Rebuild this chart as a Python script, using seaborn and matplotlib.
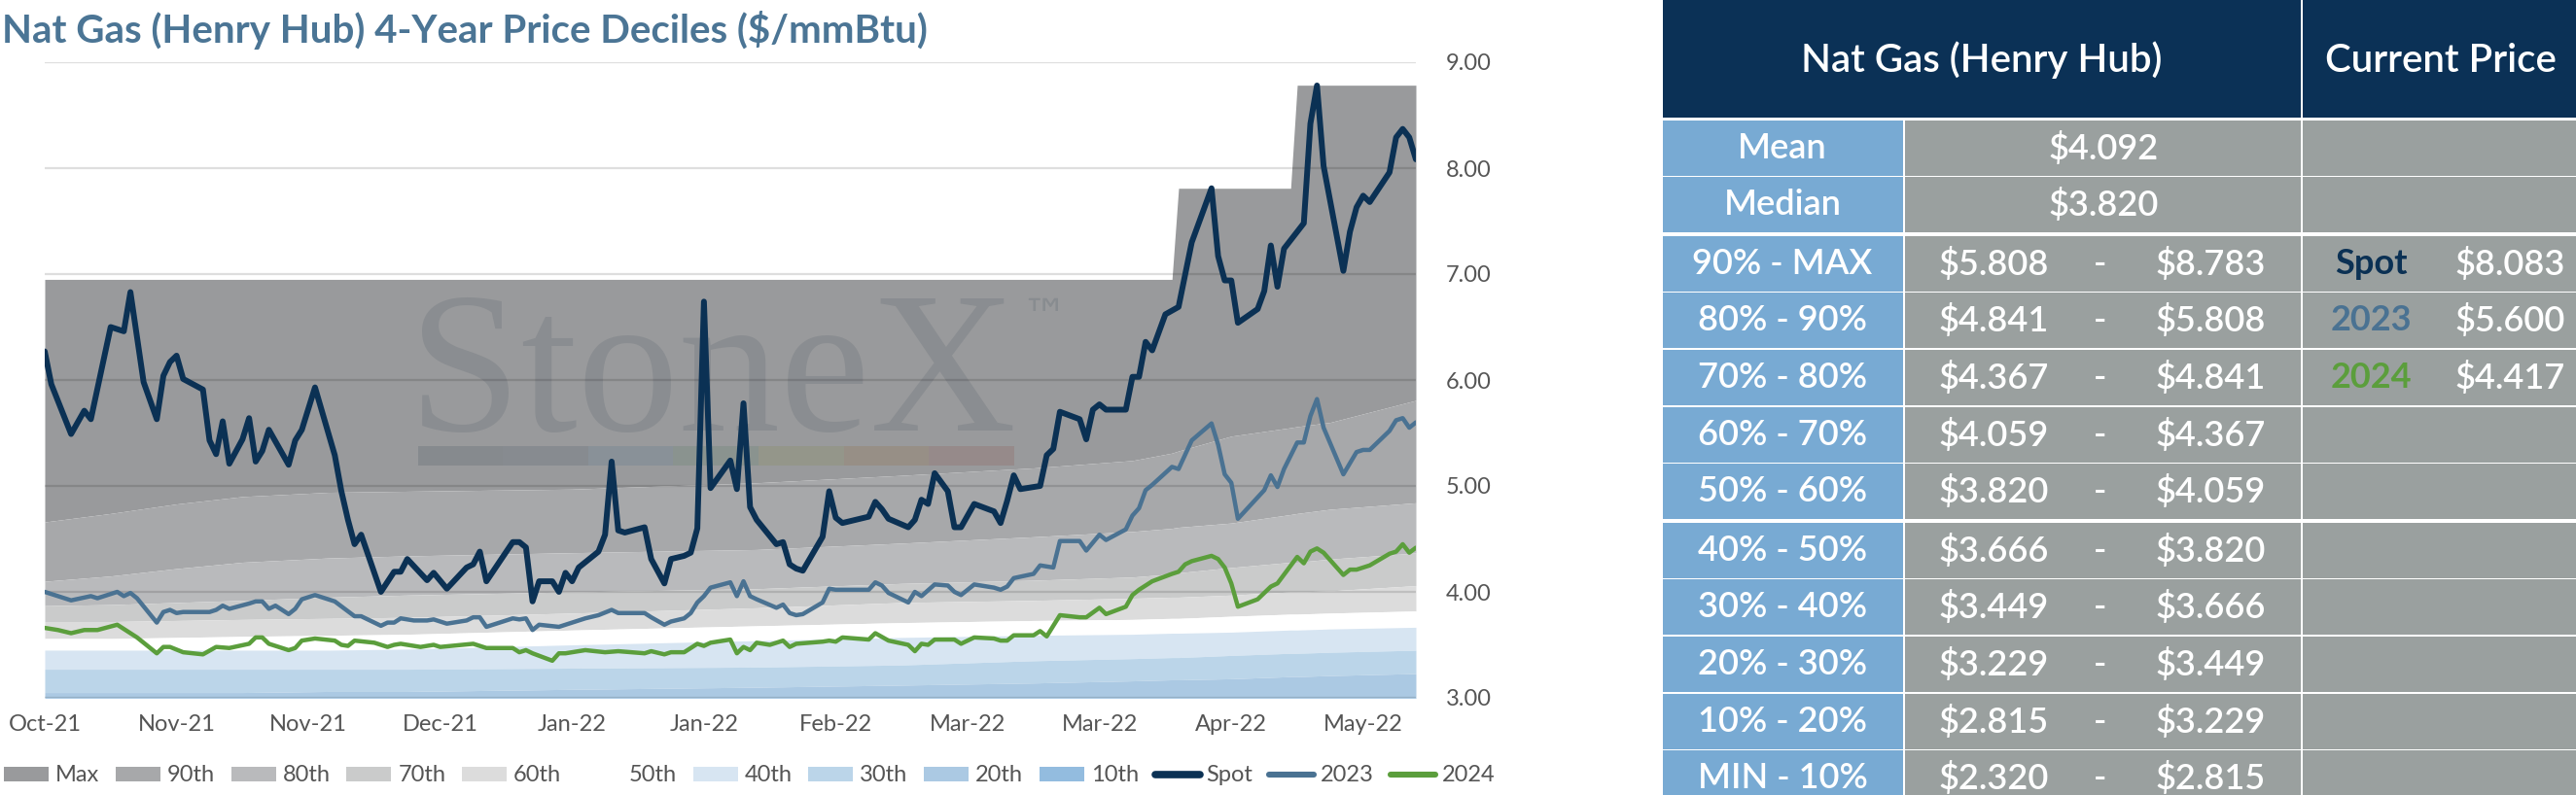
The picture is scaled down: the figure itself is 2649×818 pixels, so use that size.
import matplotlib
matplotlib.use("Agg")
import matplotlib.pyplot as plt
from matplotlib.patches import Rectangle, Patch
from matplotlib.lines import Line2D
import pandas as pd
import seaborn as sns

# ---- data ----------------------------------------------------------------
START = pd.Timestamp("2021-10-15")
LAST_DAY = 208

spot_day = [0, 1, 4, 6, 7, 10, 12, 13, 15, 17, 18, 19, 20, 21, 24, 25, 26, 27, 28, 30,
            31, 32, 33, 34, 37, 38, 39, 41, 44, 45, 46, 47, 48, 51, 53, 54, 55, 58, 59, 61,
            64, 65, 66, 67, 71, 72, 73, 74, 75, 77, 78, 79, 80, 81, 84, 85, 86, 87, 88, 91,
            92, 94, 95, 97, 98, 99, 100, 101, 104, 105, 106, 107, 108, 111, 112, 113, 114, 115, 118, 119,
            120, 121, 125, 126, 127, 128, 131, 132, 133, 134, 135, 137, 138, 139, 141, 144, 145, 146, 147, 148,
            151, 152, 153, 154, 157, 158, 159, 160, 161, 164, 165, 166, 167, 168, 170, 172, 174, 177, 178, 179,
            180, 181, 184, 185, 186, 187, 188, 191, 192, 193, 194, 197, 198, 199, 200, 201, 204, 205, 206, 207,
            208]
spot_px = [6.27, 5.96, 5.49, 5.71, 5.63, 6.50, 6.46, 6.83, 5.98, 5.63, 6.04, 6.17, 6.23, 6.01, 5.91, 5.43, 5.30, 5.61, 5.21, 5.44,
           5.64, 5.23, 5.33, 5.53, 5.20, 5.43, 5.53, 5.93, 5.29, 4.95, 4.68, 4.45, 4.54, 4.00, 4.19, 4.19, 4.31, 4.11, 4.18, 4.03,
           4.23, 4.26, 4.38, 4.10, 4.47, 4.47, 4.42, 3.91, 4.10, 4.10, 4.00, 4.18, 4.10, 4.23, 4.38, 4.54, 5.23, 4.58, 4.56, 4.61,
           4.31, 4.08, 4.31, 4.34, 4.37, 4.60, 6.74, 4.98, 5.24, 4.97, 5.78, 4.80, 4.68, 4.45, 4.47, 4.26, 4.22, 4.20, 4.52, 4.95,
           4.70, 4.65, 4.71, 4.85, 4.78, 4.69, 4.61, 4.68, 4.87, 4.83, 5.12, 4.95, 4.61, 4.61, 4.83, 4.76, 4.65, 4.86, 5.10, 4.97,
           5.00, 5.29, 5.35, 5.70, 5.63, 5.44, 5.72, 5.77, 5.72, 5.72, 6.03, 6.03, 6.36, 6.28, 6.62, 6.69, 7.30, 7.81, 7.17, 6.94,
           6.94, 6.54, 6.67, 6.84, 7.27, 6.88, 7.24, 7.48, 8.42, 8.78, 8.02, 7.03, 7.40, 7.63, 7.74, 7.68, 7.96, 8.29, 8.37, 8.29,
           8.083]

y2023_day = [0, 4, 7, 8, 11, 12, 13, 14, 17, 18, 19, 20, 21, 25, 26, 27, 28, 31, 32, 33,
             34, 35, 37, 38, 39, 41, 44, 47, 48, 51, 52, 53, 54, 56, 58, 59, 61, 64, 65, 66,
             67, 71, 72, 73, 74, 75, 78, 80, 82, 84, 86, 87, 91, 92, 94, 95, 97, 98, 99, 100,
             101, 104, 105, 106, 107, 108, 111, 112, 113, 114, 115, 118, 119, 120, 125, 126, 127, 128, 131, 132,
             133, 135, 137, 138, 139, 141, 144, 145, 146, 147, 150, 151, 153, 154, 157, 158, 160, 161, 164, 165,
             166, 167, 168, 171, 172, 174, 177, 178, 179, 180, 181, 185, 186, 187, 188, 190, 191, 192, 193, 194,
             197, 199, 200, 201, 204, 205, 206, 207, 208]
y2023_px = [4.00, 3.92, 3.96, 3.94, 4.00, 3.96, 3.99, 3.94, 3.71, 3.81, 3.83, 3.80, 3.81, 3.81, 3.83, 3.87, 3.84, 3.89, 3.91, 3.91,
            3.84, 3.87, 3.79, 3.84, 3.93, 3.97, 3.91, 3.77, 3.77, 3.68, 3.71, 3.71, 3.75, 3.73, 3.73, 3.74, 3.70, 3.73, 3.76, 3.76,
            3.67, 3.75, 3.74, 3.75, 3.64, 3.69, 3.67, 3.71, 3.75, 3.78, 3.83, 3.80, 3.80, 3.76, 3.69, 3.72, 3.75, 3.80, 3.90, 3.96,
            4.04, 4.09, 3.96, 4.10, 3.96, 3.93, 3.85, 3.88, 3.80, 3.78, 3.79, 3.90, 4.03, 4.02, 4.02, 4.09, 4.06, 3.99, 3.90, 4.00,
            3.96, 4.07, 4.06, 4.00, 3.97, 4.07, 4.04, 4.02, 4.05, 4.13, 4.17, 4.25, 4.23, 4.48, 4.48, 4.39, 4.54, 4.49, 4.59, 4.72,
            4.79, 4.96, 5.01, 5.18, 5.16, 5.43, 5.59, 5.39, 5.11, 5.03, 4.69, 4.96, 5.10, 4.99, 5.16, 5.41, 5.41, 5.66, 5.82, 5.55,
            5.11, 5.32, 5.34, 5.34, 5.52, 5.62, 5.64, 5.55, 5.600]

y2024_day = [0, 2, 4, 6, 8, 11, 14, 17, 18, 19, 21, 24, 26, 28, 31, 32, 33, 34, 37, 38,
             39, 41, 44, 45, 46, 47, 50, 52, 53, 54, 57, 59, 60, 65, 67, 71, 72, 73, 74, 77,
             78, 79, 82, 85, 87, 91, 92, 94, 95, 97, 98, 99, 100, 101, 104, 105, 106, 107, 108, 110,
             112, 113, 114, 118, 119, 120, 121, 125, 126, 128, 131, 132, 133, 134, 135, 138, 139, 141, 144, 145,
             146, 147, 150, 151, 152, 154, 157, 158, 160, 161, 164, 165, 166, 168, 171, 172, 173, 174, 177, 178,
             179, 180, 181, 184, 186, 187, 190, 191, 192, 193, 194, 197, 198, 199, 200, 201, 204, 205, 206, 207,
             208]
y2024_px = [3.66, 3.64, 3.61, 3.64, 3.64, 3.69, 3.57, 3.42, 3.48, 3.48, 3.43, 3.41, 3.48, 3.47, 3.51, 3.57, 3.57, 3.51, 3.45, 3.47,
            3.54, 3.56, 3.54, 3.50, 3.49, 3.54, 3.52, 3.48, 3.50, 3.51, 3.48, 3.50, 3.48, 3.51, 3.47, 3.47, 3.43, 3.45, 3.42, 3.35,
            3.42, 3.42, 3.45, 3.43, 3.44, 3.42, 3.44, 3.41, 3.43, 3.43, 3.47, 3.51, 3.49, 3.52, 3.55, 3.42, 3.48, 3.45, 3.52, 3.50,
            3.54, 3.48, 3.51, 3.53, 3.54, 3.53, 3.57, 3.55, 3.61, 3.54, 3.50, 3.44, 3.51, 3.50, 3.55, 3.55, 3.51, 3.57, 3.56, 3.54,
            3.54, 3.59, 3.59, 3.63, 3.58, 3.78, 3.76, 3.76, 3.85, 3.79, 3.86, 3.97, 4.02, 4.10, 4.17, 4.19, 4.26, 4.29, 4.34, 4.31,
            4.23, 4.08, 3.86, 3.93, 4.05, 4.08, 4.33, 4.27, 4.38, 4.41, 4.37, 4.16, 4.21, 4.21, 4.23, 4.25, 4.36, 4.38, 4.45, 4.37,
            4.417]

# 4-year decile envelope, sampled on these days
band_day = [0, 10, 20, 30, 43, 55, 80, 108, 130, 150, 165, 171, 172, 180, 189, 190, 195, 208]
dec_max = [6.95, 6.95, 6.95, 6.95, 6.95, 6.95, 6.95, 6.95, 6.95, 6.95, 6.95, 6.95, 7.81, 7.81, 7.81, 8.783, 8.783, 8.783]
dec_90 = [4.66, 4.74, 4.83, 4.90, 4.94, 4.95, 4.97, 5.03, 5.10, 5.17, 5.24, 5.31, 5.33, 5.47, 5.55, 5.56, 5.60, 5.808]
dec_80 = [4.10, 4.15, 4.22, 4.28, 4.32, 4.34, 4.37, 4.40, 4.46, 4.52, 4.57, 4.60, 4.61, 4.65, 4.73, 4.74, 4.78, 4.841]
dec_70 = [3.87, 3.88, 3.90, 3.92, 3.95, 3.97, 4.00, 4.03, 4.08, 4.11, 4.14, 4.17, 4.18, 4.23, 4.28, 4.28, 4.31, 4.367]
dec_60 = [3.72, 3.72, 3.73, 3.74, 3.75, 3.76, 3.80, 3.85, 3.90, 3.92, 3.94, 3.95, 3.95, 3.97, 4.00, 4.00, 4.01, 4.059]
dec_50 = [3.56, 3.56, 3.57, 3.58, 3.59, 3.60, 3.64, 3.68, 3.71, 3.73, 3.74, 3.75, 3.75, 3.77, 3.79, 3.79, 3.80, 3.820]
dec_40 = [3.45, 3.45, 3.45, 3.45, 3.45, 3.46, 3.50, 3.54, 3.57, 3.59, 3.60, 3.61, 3.61, 3.62, 3.64, 3.64, 3.65, 3.666]
dec_30 = [3.27, 3.27, 3.27, 3.27, 3.27, 3.27, 3.28, 3.29, 3.31, 3.35, 3.37, 3.38, 3.38, 3.40, 3.42, 3.42, 3.43, 3.449]
dec_20 = [3.05, 3.05, 3.05, 3.05, 3.06, 3.06, 3.08, 3.10, 3.12, 3.14, 3.16, 3.17, 3.17, 3.18, 3.20, 3.20, 3.21, 3.229]
dec_10 = [2.72, 2.72, 2.73, 2.73, 2.74, 2.74, 2.75, 2.76, 2.77, 2.78, 2.79, 2.79, 2.79, 2.80, 2.80, 2.80, 2.81, 2.815]
dec_min = [2.32] * 18

band_names = ["Max", "90th", "80th", "70th", "60th", "50th", "40th", "30th", "20th", "10th"]
band_colors = ["#999a9c", "#a7a8aa", "#b9babc", "#cacbcb", "#dcdcdc", "#ffffff",
               "#d7e5f2", "#bbd5e9", "#abc9e3", "#93bcdf"]

# table
row_labels = ["Mean", "Median", "90% - MAX", "80% - 90%", "70% - 80%", "60% - 70%",
              "50% - 60%", "40% - 50%", "30% - 40%", "20% - 30%", "10% - 20%", "MIN - 10%"]
mean_price = 4.092
median_price = 3.820
decile_edges = [8.783, 5.808, 4.841, 4.367, 4.059, 3.820, 3.666, 3.449, 3.229, 2.815, 2.320]
current_names = ["Spot", "2023", "2024"]
current_prices = [8.083, 5.600, 4.417]

line_colors = {"Spot": "#0b3154", "2023": "#4a7292", "2024": "#5b9e3c"}
line_widths = {"Spot": 4.3, "2023": 3.2, "2024": 3.2}

# ---- figure --------------------------------------------------------------
sns.set_style("white")
plt.rcParams["font.family"] = ["Lato", "DejaVu Sans"]

W, H = 2649, 818
fig = plt.figure(figsize=(W / 100, H / 100), dpi=100)
ax = fig.add_axes([46 / W, 1 - 718 / H, (1456 - 46) / W, (718 - 64) / H])

bd = START + pd.to_timedelta(band_day, unit="D")
edges = [dec_max, dec_90, dec_80, dec_70, dec_60, dec_50, dec_40, dec_30, dec_20, dec_10, dec_min]
for i, col in enumerate(band_colors):
    ax.fill_between(bd, edges[i + 1], edges[i], color=col, linewidth=0, zorder=1)

# watermark
ax.text(0.265, 0.4205, "StoneX", transform=ax.transAxes, fontsize=150,
        family="Liberation Serif", color="#7e8388", alpha=0.55, zorder=1.5, va="baseline")
ax.text(0.712, 0.595, "\u2122", transform=ax.transAxes, fontsize=34,
        color="#7e8388", alpha=0.6, zorder=1.5, va="center", family="DejaVu Sans")
wm_cols = ["#868a8e", "#878b90", "#899198", "#8a938f", "#94968a", "#978f86", "#968a8a"]
seg = (0.707 - 0.272) / len(wm_cols)
for k, c in enumerate(wm_cols):
    ax.add_patch(Rectangle((0.272 + k * seg, 0.365), seg, 0.031, transform=ax.transAxes,
                           color=c, linewidth=0, zorder=1.5))

series = [("2024", y2024_day, y2024_px), ("2023", y2023_day, y2023_px), ("Spot", spot_day, spot_px)]
for name, days, vals in series:
    df = pd.DataFrame({"date": START + pd.to_timedelta(days, unit="D"), "price": vals})
    sns.lineplot(data=df, x="date", y="price", color=line_colors[name],
                 linewidth=line_widths[name], estimator=None, ax=ax, zorder=4,
                 solid_joinstyle="round", solid_capstyle="round")

ax.set_xlim(START, START + pd.Timedelta(days=LAST_DAY))
ax.set_ylim(3, 9)
ax.set_xlabel("")
ax.set_ylabel("")
ticks = START + pd.to_timedelta(list(range(0, LAST_DAY + 1, 20)), unit="D")
ax.set_xticks(ticks)
ax.set_xticklabels([t.strftime("%b-%y") for t in ticks])
ax.set_yticks(range(3, 10))
ax.set_yticklabels([f"{v:.2f}" for v in range(3, 10)])
ax.yaxis.tick_right()
ax.tick_params(axis="y", length=0, pad=22, labelsize=17, labelcolor="#555555")
ax.tick_params(axis="x", length=0, pad=12, labelsize=17, labelcolor="#555555")
ax.set_axisbelow(False)
ax.grid(axis="y", color="black", alpha=0.13, linewidth=1.6, zorder=3)
ax.grid(axis="x", visible=False)
for s in ax.spines.values():
    s.set_visible(False)

fig.text(2 / W, 1 - 44 / H, "Nat Gas (Henry Hub) 4-Year Price Deciles ($/mmBtu)",
         fontsize=29, fontweight="bold", color="#4b7595", va="baseline")

handles = [Patch(facecolor=c, edgecolor="none") for c in band_colors]
handles += [Line2D([], [], color=line_colors[n], linewidth=line_widths[n] + 1.2,
                   solid_capstyle="round") for n in ["Spot", "2023", "2024"]]
fig.legend(handles, band_names + ["Spot", "2023", "2024"], loc="center left",
           bbox_to_anchor=(4 / W, 1 - 798 / H), ncol=13, frameon=False, fontsize=17,
           handlelength=1.95, handleheight=0.6, handletextpad=0.3, columnspacing=0.7,
           borderaxespad=0, borderpad=0, labelcolor="#555555")

# ---- table ---------------------------------------------------------------
TX0 = 1710
tab = fig.add_axes([TX0 / W, 0, (W - TX0) / W, 1])
tab.set_xlim(0, W - TX0)
tab.set_ylim(H, 0)
tab.axis("off")

NAVY, BLUE, GRAY = "#0b3156", "#78aad3", "#9aa09f"
FS = 26
WT = "semibold"
col_x = [(0, 247), (249, 656), (658, W - TX0)]
tab.add_patch(Rectangle((0, 0), 656, 121, color=NAVY, linewidth=0))
tab.add_patch(Rectangle((658, 0), W - TX0 - 658, 121, color=NAVY, linewidth=0))
tab.text(328, 62, "Nat Gas (Henry Hub)", color="white", fontsize=29, fontweight=WT,
         ha="center", va="center")
tab.text(800, 62, "Current Price", color="white", fontsize=29, fontweight=WT,
         ha="center", va="center")

ROW_H = 58.6
for k, label in enumerate(row_labels):
    top = 123.5 + k * ROW_H + (2 if k >= 2 else 0) + (2 if k >= 7 else 0)
    h = ROW_H - 1.5
    for j, (x0, x1) in enumerate(col_x):
        tab.add_patch(Rectangle((x0, top), x1 - x0, h, color=BLUE if j == 0 else GRAY, linewidth=0))
    yc = top + h / 2
    txt = dict(color="white", fontsize=FS, fontweight=WT, ha="center", va="center")
    tab.text(123, yc, label, **txt)
    if k < 2:
        v = mean_price if k == 0 else median_price
        tab.text(453, yc, f"${v:.3f}", **txt)
    else:
        hi, lo = decile_edges[k - 2], decile_edges[k - 1]
        tab.text(340, yc, f"${lo:.3f}", **txt)
        tab.text(450, yc, "-", **txt)
        tab.text(563, yc, f"${hi:.3f}", **txt)
        if k - 2 < len(current_names):
            n = current_names[k - 2]
            tab.text(728, yc, n, color=line_colors[n], fontsize=FS, fontweight="bold",
                     ha="center", va="center")
            tab.text(871, yc, f"${current_prices[k - 2]:.3f}", **txt)

fig.savefig("out.png", dpi=100)
